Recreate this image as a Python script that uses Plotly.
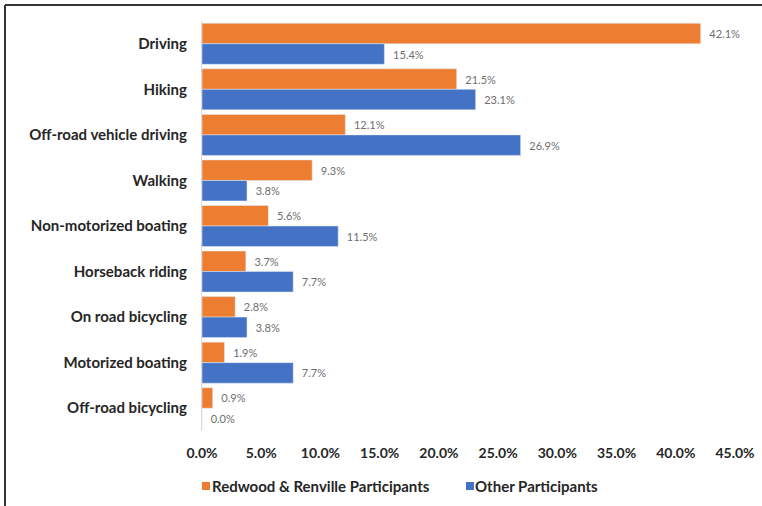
import plotly.graph_objects as go

categories = ["Driving", "Hiking", "Off-road vehicle driving", "Walking",
              "Non-motorized boating", "Horseback riding", "On road bicycling",
              "Motorized boating", "Off-road bicycling"]
redwood_vals = [42.1, 21.5, 12.1, 9.3, 5.6, 3.7, 2.8, 1.9, 0.9]
other_vals = [15.4, 23.1, 26.9, 3.8, 11.5, 7.7, 3.8, 7.7, 0.0]
series_names = ["Redwood & Renville Participants", "Other Participants"]
series_colors = ["#ED7D31", "#4472C4"]
tick_vals = [0, 5, 10, 15, 20, 25, 30, 35, 40, 45]
tick_text = ["0.0%", "5.0%", "10.0%", "15.0%", "20.0%", "25.0%", "30.0%", "35.0%", "40.0%", "45.0%"]

FONT = "Lato, Carlito, 'Liberation Sans', sans-serif"

fig = go.Figure()
for name, vals, col in zip(series_names, [redwood_vals, other_vals], series_colors):
    fig.add_trace(go.Bar(
        y=categories, x=vals, name=name, orientation="h",
        marker=dict(color=col),
        text=["  %.1f%%" % v for v in vals], textposition="outside",
        textfont=dict(family=FONT, size=11, color="#6e6e6e"), cliponaxis=False,
        showlegend=False,
    ))

L, R, T, B = 202, 27, 21, 75
W, H = 762, 506
pw, ph = W - L - R, H - T - B

def px_to_paper_x(px):
    return (px - L) / pw

def px_to_paper_y(py):
    return (H - B - py) / ph

# manual legend (marker box + label), positions in screen pixels
legend_items = [(202, 210), (466, 473)]
legend_y = 486
shapes = [
    dict(type="line", xref="paper", yref="paper",
         x0=px_to_paper_x(5), x1=px_to_paper_x(5),
         y0=px_to_paper_y(5), y1=px_to_paper_y(506),
         line=dict(color="#333333", width=2)),
    dict(type="line", xref="paper", yref="paper",
         x0=px_to_paper_x(5), x1=px_to_paper_x(762),
         y0=px_to_paper_y(5), y1=px_to_paper_y(5),
         line=dict(color="#333333", width=2)),
]
annotations = []
for (mx, tx), name, col in zip(legend_items, series_names, series_colors):
    shapes.append(dict(type="rect", xref="paper", yref="paper",
                       x0=px_to_paper_x(mx), x1=px_to_paper_x(mx + 8),
                       y0=px_to_paper_y(legend_y + 4), y1=px_to_paper_y(legend_y - 4),
                       fillcolor=col, line=dict(width=0)))
    annotations.append(dict(xref="paper", yref="paper", x=px_to_paper_x(tx), y=px_to_paper_y(legend_y),
                            xanchor="left", yanchor="middle", showarrow=False, text=name,
                            font=dict(family=FONT, size=15, color="#262626", weight="bold")))

fig.update_layout(
    width=W, height=H,
    margin=dict(l=L, r=R, t=T, b=B, autoexpand=False),
    paper_bgcolor="white", plot_bgcolor="white",
    barmode="group", bargap=0.1, bargroupgap=0.0,
    font=dict(family=FONT, color="#262626"),
    showlegend=False,
    xaxis=dict(range=[0, 45], tickvals=tick_vals, ticktext=tick_text,
               showgrid=False, zeroline=False, showline=False, automargin=False,
               tickfont=dict(family=FONT, size=14, color="#262626", weight="bold"),
               ticks="", ticklabelstandoff=12),
    yaxis=dict(categoryorder="array", categoryarray=categories, autorange="reversed",
               showgrid=False, zeroline=False, showline=True, linecolor="#d9d9d9", linewidth=1,
               automargin=False,
               tickfont=dict(family=FONT, size=15, color="#262626", weight="bold"),
               ticks="", ticklabelstandoff=11),
    shapes=shapes,
    annotations=annotations,
)

fig.write_html("out.html", config={"displayModeBar": False},
               post_script="document.body.style.margin='0';document.body.style.overflow='hidden';")
